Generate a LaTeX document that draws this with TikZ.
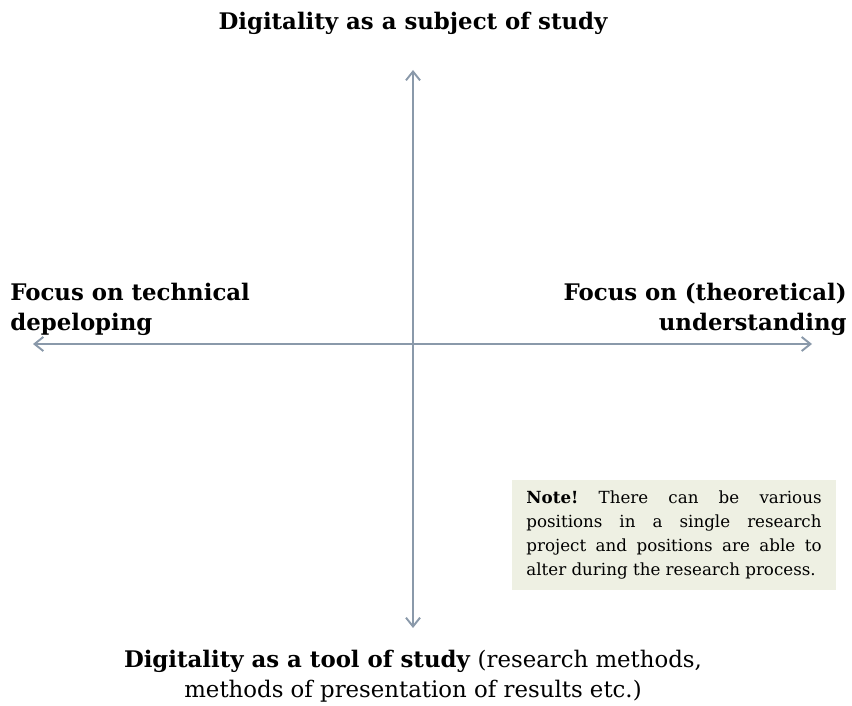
\documentclass[tikz,border=0pt]{standalone}
\usepackage{fontspec}
\setmainfont{DejaVu Serif}
\usetikzlibrary{arrows.meta}

\definecolor{axisgray}{HTML}{8A99AA}
\definecolor{notefill}{HTML}{EEF0E3}

\begin{document}
\begin{tikzpicture}[x=0.02cm, y=-0.02cm]
        \useasboundingbox (0,0) rectangle (852,706);
        % axis end points
        \coordinate (top) at (413, 70);
        \coordinate (bottom) at (413, 628);
        \coordinate (left) at (33, 344);
        \coordinate (right) at (812, 344);

        \begin{scope}[every node/.style={font=\fontsize{13}{17}\selectfont\bfseries, inner sep=0pt}]
            \node (subj) [anchor=base] at (413, 30) {Digitality as a subject of study};
            \node (tech) [anchor=base west, align=left] at (10, 330) {Focus on technical\\depeloping};
            \node (theo) [anchor=base east, align=right] at (847, 330) {Focus on (theoretical)\\understanding};
        \end{scope}

        \node (tool) [anchor=base, align=center, inner sep=0pt, font=\fontsize{13}{17}\selectfont] at (413, 697)
            {\textbf{Digitality as a tool of study} (research methods,\\methods of presentation of results etc.)};

        \node (note) [fill=notefill, anchor=north west, inner xsep=8pt, inner ysep=6pt,
                      text width=168pt, align=justify, font=\fontsize{9.5}{13.6}\selectfont]
            at (512, 480) {\frenchspacing\hyphenpenalty=10000\relax\textbf{Note!} There can be various\linebreak positions in a single research\linebreak project and positions are able to\linebreak alter during the research process.};

        \begin{scope}[every path/.style={draw=axisgray, line width=1.1pt,
                      {Straight Barb[length=5pt,width=8pt]}-{Straight Barb[length=5pt,width=8pt]}}]
            \path (bottom) -- (top);
            \path (left) -- (right);
        \end{scope}
    \end{tikzpicture}
\end{document}
